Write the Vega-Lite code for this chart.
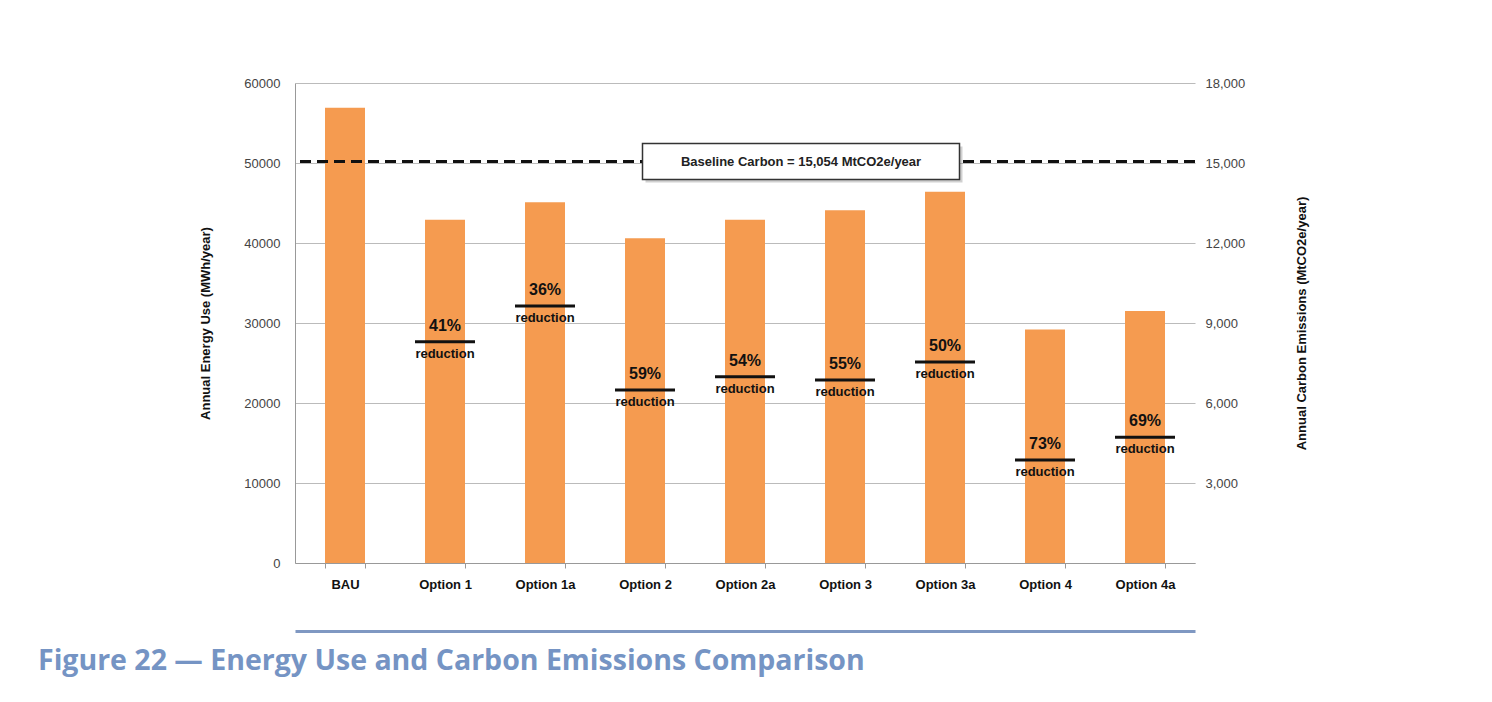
{
  "$schema": "https://vega.github.io/schema/vega-lite/v6.json",
  "width": 900,
  "height": 480,
  "autosize": {"type": "none"},
  "padding": {"left": 295, "top": 83, "right": 297, "bottom": 139},
  "background": "white",
  "config": {"view": {"stroke": null}, "font": "Liberation Sans"},
  "title": {
    "text": "Figure 22 — Energy Use and Carbon Emissions Comparison",
    "orient": "bottom",
    "anchor": "start",
    "frame": "group",
    "dx": -257,
    "offset": 16,
    "baseline": "top",
    "font": "Open Sans",
    "fontSize": 28.5,
    "fontWeight": "bold",
    "color": "#7594C4"
  },
  "datasets": {
    "options": [
      {"option": "BAU", "energy": 56900, "carbon": null, "pct": null, "note": null},
      {"option": "Option 1", "energy": 42900, "carbon": 8300, "pct": "41%", "note": "reduction"},
      {"option": "Option 1a", "energy": 45100, "carbon": 9640, "pct": "36%", "note": "reduction"},
      {"option": "Option 2", "energy": 40600, "carbon": 6490, "pct": "59%", "note": "reduction"},
      {"option": "Option 2a", "energy": 42900, "carbon": 6980, "pct": "54%", "note": "reduction"},
      {"option": "Option 3", "energy": 44100, "carbon": 6860, "pct": "55%", "note": "reduction"},
      {"option": "Option 3a", "energy": 46400, "carbon": 7540, "pct": "50%", "note": "reduction"},
      {"option": "Option 4", "energy": 29200, "carbon": 3860, "pct": "73%", "note": "reduction"},
      {"option": "Option 4a", "energy": 31500, "carbon": 4720, "pct": "69%", "note": "reduction"}
    ],
    "baseline": [
      {"option": "Option 2a", "carbon": 15054, "label": "Baseline Carbon = 15,054 MtCO2e/year"}
    ]
  },
  "layer": [
    {
      "data": {"name": "options"},
      "mark": {"type": "bar", "color": "#F59B50"},
      "encoding": {
        "x": {
          "field": "option",
          "type": "nominal",
          "sort": null,
          "scale": {
            "domain": ["BAU", "Option 1", "Option 1a", "Option 2", "Option 2a", "Option 3", "Option 3a", "Option 4", "Option 4a"],
            "paddingInner": 0.6,
            "paddingOuter": 0.3
          },
          "axis": {
            "title": null,
            "labelAngle": 0,
            "labelFont": "Liberation Sans",
            "labelFontSize": 13,
            "labelFontWeight": "bold",
            "labelColor": "#111111",
            "labelPadding": 10,
            "tickBand": "extent",
            "tickSize": 5,
            "tickColor": "#999999",
            "domainColor": "#999999",
            "grid": false
          }
        },
        "y": {
          "field": "energy",
          "type": "quantitative",
          "scale": {"domain": [0, 60000]},
          "axis": {
            "title": "Annual Energy Use (MWh/year)",
            "values": [0, 10000, 20000, 30000, 40000, 50000, 60000],
            "format": "d",
            "labelFont": "Liberation Sans",
            "labelFontSize": 13,
            "labelColor": "#444444",
            "labelPadding": 15,
            "ticks": false,
            "grid": true,
            "gridColor": "#BBBBBB",
            "domainColor": "#999999",
            "titleFont": "Liberation Sans",
            "titleFontSize": 13,
            "titleFontWeight": "bold",
            "titleColor": "#111111",
            "titlePadding": 31
          }
        }
      }
    },
    {
      "layer": [
        {
          "data": {"name": "baseline"},
          "mark": {"type": "rule", "strokeDash": [11, 6], "strokeWidth": 3, "color": "#111111"},
          "encoding": {
            "y": {
              "field": "carbon",
              "type": "quantitative",
              "scale": {"domain": [0, 18000]},
              "axis": {"orient": "right", "title": "Annual Carbon Emissions (MtCO2e/year)", "values": [3000, 6000, 9000, 12000, 15000, 18000], "format": ",d", "grid": false, "ticks": false, "domain": false, "labelFont": "Liberation Sans", "labelFontSize": 13, "labelColor": "#444444", "labelPadding": 10, "titleFont": "Liberation Sans", "titleFontSize": 13, "titleFontWeight": "bold", "titleColor": "#111111", "titleAngle": 270, "titlePadding": 64}
            }
          }
        },
        {
          "data": {"name": "options"},
          "transform": [{"filter": "datum.carbon != null"}],
          "mark": {"type": "tick", "color": "#111111", "thickness": 3, "size": 60, "opacity": 1},
          "encoding": {
            "x": {"field": "option", "type": "nominal", "sort": null, "axis": {"orient": "bottom", "offset": 68, "labels": false, "ticks": false, "title": null, "grid": false, "domainColor": "#7F98C2", "domainWidth": 3}},
            "y": {
              "field": "carbon",
              "type": "quantitative",
              "scale": {"domain": [0, 18000]},
              "axis": {"orient": "right", "title": "Annual Carbon Emissions (MtCO2e/year)", "values": [3000, 6000, 9000, 12000, 15000, 18000], "format": ",d", "grid": false, "ticks": false, "domain": false, "labelFont": "Liberation Sans", "labelFontSize": 13, "labelColor": "#444444", "labelPadding": 10, "titleFont": "Liberation Sans", "titleFontSize": 13, "titleFontWeight": "bold", "titleColor": "#111111", "titleAngle": 270, "titlePadding": 64}
            }
          }
        },
        {
          "data": {"name": "options"},
          "transform": [{"filter": "datum.carbon != null"}],
          "mark": {"type": "text", "dy": -16, "fontSize": 16, "fontWeight": "bold", "color": "#111111", "baseline": "middle", "font": "Liberation Sans"},
          "encoding": {
            "x": {"field": "option", "type": "nominal", "sort": null, "axis": {"orient": "bottom", "offset": 68, "labels": false, "ticks": false, "title": null, "grid": false, "domainColor": "#7F98C2", "domainWidth": 3}},
            "y": {
              "field": "carbon",
              "type": "quantitative",
              "scale": {"domain": [0, 18000]},
              "axis": {"orient": "right", "title": "Annual Carbon Emissions (MtCO2e/year)", "values": [3000, 6000, 9000, 12000, 15000, 18000], "format": ",d", "grid": false, "ticks": false, "domain": false, "labelFont": "Liberation Sans", "labelFontSize": 13, "labelColor": "#444444", "labelPadding": 10, "titleFont": "Liberation Sans", "titleFontSize": 13, "titleFontWeight": "bold", "titleColor": "#111111", "titleAngle": 270, "titlePadding": 64}
            },
            "text": {"field": "pct"}
          }
        },
        {
          "data": {"name": "options"},
          "transform": [{"filter": "datum.carbon != null"}],
          "mark": {"type": "text", "dy": 12, "fontSize": 13, "fontWeight": "bold", "color": "#111111", "baseline": "middle", "font": "Liberation Sans"},
          "encoding": {
            "x": {"field": "option", "type": "nominal", "sort": null, "axis": {"orient": "bottom", "offset": 68, "labels": false, "ticks": false, "title": null, "grid": false, "domainColor": "#7F98C2", "domainWidth": 3}},
            "y": {
              "field": "carbon",
              "type": "quantitative",
              "scale": {"domain": [0, 18000]},
              "axis": {"orient": "right", "title": "Annual Carbon Emissions (MtCO2e/year)", "values": [3000, 6000, 9000, 12000, 15000, 18000], "format": ",d", "grid": false, "ticks": false, "domain": false, "labelFont": "Liberation Sans", "labelFontSize": 13, "labelColor": "#444444", "labelPadding": 10, "titleFont": "Liberation Sans", "titleFontSize": 13, "titleFontWeight": "bold", "titleColor": "#111111", "titleAngle": 270, "titlePadding": 64}
            },
            "text": {"field": "note"}
          }
        },
        {
          "data": {"name": "baseline"},
          "mark": {"type": "point", "shape": "M-1,-0.1136L1,-0.1136L1,0.1136L-1,0.1136Z", "size": 100489, "filled": true, "fill": "#777777", "opacity": 0.35, "xOffset": 59, "yOffset": 3},
          "encoding": {
            "x": {"field": "option", "type": "nominal", "sort": null, "axis": {"orient": "bottom", "offset": 68, "labels": false, "ticks": false, "title": null, "grid": false, "domainColor": "#7F98C2", "domainWidth": 3}},
            "y": {
              "field": "carbon",
              "type": "quantitative",
              "scale": {"domain": [0, 18000]},
              "axis": {"orient": "right", "title": "Annual Carbon Emissions (MtCO2e/year)", "values": [3000, 6000, 9000, 12000, 15000, 18000], "format": ",d", "grid": false, "ticks": false, "domain": false, "labelFont": "Liberation Sans", "labelFontSize": 13, "labelColor": "#444444", "labelPadding": 10, "titleFont": "Liberation Sans", "titleFontSize": 13, "titleFontWeight": "bold", "titleColor": "#111111", "titleAngle": 270, "titlePadding": 64}
            }
          }
        },
        {
          "data": {"name": "baseline"},
          "mark": {"type": "point", "shape": "M-1,-0.1136L1,-0.1136L1,0.1136L-1,0.1136Z", "size": 100489, "filled": true, "fill": "white", "stroke": "#333333", "strokeWidth": 1.5, "opacity": 1, "xOffset": 56},
          "encoding": {
            "x": {"field": "option", "type": "nominal", "sort": null, "axis": {"orient": "bottom", "offset": 68, "labels": false, "ticks": false, "title": null, "grid": false, "domainColor": "#7F98C2", "domainWidth": 3}},
            "y": {
              "field": "carbon",
              "type": "quantitative",
              "scale": {"domain": [0, 18000]},
              "axis": {"orient": "right", "title": "Annual Carbon Emissions (MtCO2e/year)", "values": [3000, 6000, 9000, 12000, 15000, 18000], "format": ",d", "grid": false, "ticks": false, "domain": false, "labelFont": "Liberation Sans", "labelFontSize": 13, "labelColor": "#444444", "labelPadding": 10, "titleFont": "Liberation Sans", "titleFontSize": 13, "titleFontWeight": "bold", "titleColor": "#111111", "titleAngle": 270, "titlePadding": 64}
            }
          }
        },
        {
          "data": {"name": "baseline"},
          "mark": {"type": "text", "dx": 56, "fontSize": 13, "fontWeight": "bold", "color": "#222222", "baseline": "middle", "font": "Liberation Sans"},
          "encoding": {
            "x": {"field": "option", "type": "nominal", "sort": null, "axis": {"orient": "bottom", "offset": 68, "labels": false, "ticks": false, "title": null, "grid": false, "domainColor": "#7F98C2", "domainWidth": 3}},
            "y": {
              "field": "carbon",
              "type": "quantitative",
              "scale": {"domain": [0, 18000]},
              "axis": {"orient": "right", "title": "Annual Carbon Emissions (MtCO2e/year)", "values": [3000, 6000, 9000, 12000, 15000, 18000], "format": ",d", "grid": false, "ticks": false, "domain": false, "labelFont": "Liberation Sans", "labelFontSize": 13, "labelColor": "#444444", "labelPadding": 10, "titleFont": "Liberation Sans", "titleFontSize": 13, "titleFontWeight": "bold", "titleColor": "#111111", "titleAngle": 270, "titlePadding": 64}
            },
            "text": {"field": "label"}
          }
        }
      ]
    }
  ],
  "resolve": {"scale": {"y": "independent"}, "axis": {"x": "independent"}}
}
